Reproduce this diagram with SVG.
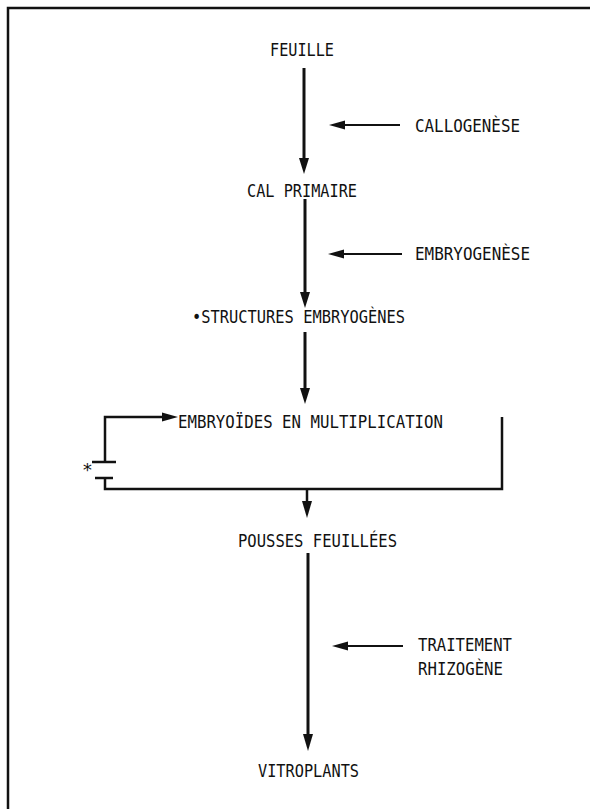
<svg xmlns="http://www.w3.org/2000/svg" width="590" height="809" viewBox="0 0 590 809">
<style>
text{font-family:"DejaVu Sans Mono","Liberation Mono",monospace;font-size:18px;fill:#111}
.main{stroke:#111;stroke-width:3;fill:none}
.side{stroke:#111;stroke-width:2;fill:none}
.loop{stroke:#111;stroke-width:2.5;fill:none}
.head{fill:#111}
</style>
<rect width="590" height="809" fill="#fff"/>
<g id="frame">
<path d="M8 809 V8 H590" stroke="#111" stroke-width="2.5" fill="none"/>
</g>
<g id="n-feuille"><text x="270" y="56" textLength="64" lengthAdjust="spacingAndGlyphs">FEUILLE</text></g>
<g id="n-cal"><text x="247" y="197" textLength="110" lengthAdjust="spacingAndGlyphs">CAL PRIMAIRE</text></g>
<g id="n-struct"><text x="192" y="323" textLength="213" lengthAdjust="spacingAndGlyphs">•STRUCTURES EMBRYOGÈNES</text></g>
<g id="n-embryo"><text x="178" y="428" textLength="265" lengthAdjust="spacingAndGlyphs">EMBRYOÏDES EN MULTIPLICATION</text></g>
<g id="n-pousses"><text x="238" y="547" textLength="159" lengthAdjust="spacingAndGlyphs">POUSSES FEUILLÉES</text></g>
<g id="n-vitro"><text x="258" y="777" textLength="101" lengthAdjust="spacingAndGlyphs">VITROPLANTS</text></g>
<g id="l-callo"><text x="415" y="132" textLength="105" lengthAdjust="spacingAndGlyphs">CALLOGENÈSE</text></g>
<g id="l-embryo"><text x="415" y="260" textLength="115" lengthAdjust="spacingAndGlyphs">EMBRYOGENÈSE</text></g>
<g id="l-trait"><text x="418" y="651" textLength="94" lengthAdjust="spacingAndGlyphs">TRAITEMENT</text><text x="418" y="675" textLength="85" lengthAdjust="spacingAndGlyphs">RHIZOGÈNE</text></g>
<g id="l-star"><text x="82" y="476" font-size="12">*</text></g>
<g id="connectors">
<line class="main" x1="304" y1="68" x2="304" y2="160"/>
<polygon class="head" points="299,158 309,158 304,174"/>
<line class="main" x1="305" y1="199" x2="305" y2="294"/>
<polygon class="head" points="300,292 310,292 305,308"/>
<line class="main" x1="305" y1="332" x2="305" y2="390"/>
<polygon class="head" points="300,388 310,388 305,404"/>
<line class="main" x1="308" y1="553" x2="308" y2="736"/>
<polygon class="head" points="303,734 313,734 308,751"/>
<line class="side" x1="400" y1="125" x2="340" y2="125"/>
<polygon class="head" points="329,125 345,120.5 345,129.5"/>
<line class="side" x1="402" y1="254" x2="339" y2="254"/>
<polygon class="head" points="328,254 344,249.5 344,258.5"/>
<line class="side" x1="403" y1="646" x2="343" y2="646"/>
<polygon class="head" points="332,646 348,641.5 348,650.5"/>
<path class="loop" d="M105 462 V417 H165"/>
<polygon class="head" points="178,417 162,412.5 162,421.5"/>
<line class="loop" x1="92" y1="462" x2="116" y2="462"/>
<line class="loop" x1="95" y1="478" x2="113" y2="478"/>
<path class="loop" d="M105 478 V489 H502 V417"/>
<line class="loop" x1="307" y1="489" x2="307" y2="503"/>
<polygon class="head" points="302,501 312,501 307,518"/>
</g>
</svg>
